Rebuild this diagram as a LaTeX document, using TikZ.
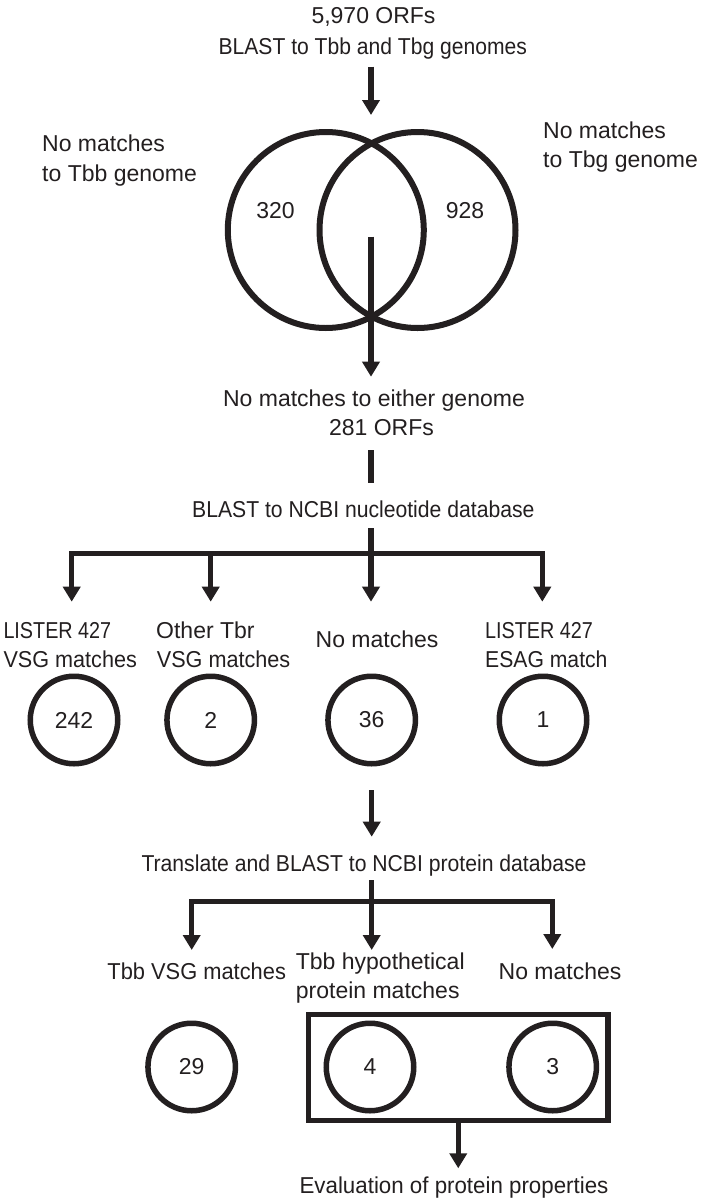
\documentclass[tikz,border=0pt]{standalone}
\usepackage{fontspec}
\setmainfont{Liberation Sans}
\usetikzlibrary{arrows.meta}
\definecolor{ink}{RGB}{35,31,32}
\begin{document}
\begin{tikzpicture}[x=1pt,y=-1pt,
  every path/.style={draw=ink},
  wire/.style={draw=ink,line width=5.5pt,line join=miter},
  conn/.style={wire,-{Triangle[length=15pt,width=17pt]}},
  lbl/.style={inner sep=0pt,text=ink,text height=16.5pt,text depth=0pt,font=\fontsize{23}{29}\selectfont},
  ring/.style={circle,draw=ink,line width=5.5pt,inner sep=0pt,minimum size=87.5pt,text=ink,font=\fontsize{23}{29}\selectfont},
  venn/.style={circle,draw=ink,line width=6pt,minimum size=196pt,inner sep=0pt}]
\useasboundingbox[fill=white,draw=none] (0,0) rectangle (702,1200);

% top
\node[lbl] (orfs) at (373.5,15) {5,970 ORFs};
\node[lbl] (blast1) at (372.8,46.7) {\scalebox{0.917}[1]{BLAST to Tbb and Tbg genomes}};
\coordinate (a1s) at (371,66.7);
\coordinate (a1e) at (371,115);
\draw[conn] (a1s) -- (a1e);

% venn
\node[venn] (vL) at (325.8,230) {};
\node[venn] (vR) at (417.5,230) {};
\node[lbl] (n320) at (275.5,210) {320};
\node[lbl] (n928) at (465,210) {928};
\node[lbl,anchor=west] (nmL1) at (42,143) {No matches};
\node[lbl,anchor=west] (nmL2) at (42,173) {to Tbb genome};
\node[lbl,anchor=west] (nmR1) at (543,130) {No matches};
\node[lbl,anchor=west] (nmR2) at (543,159) {to Tbg genome};
\coordinate (a2s) at (371,236.7);
\coordinate (a2e) at (371,376.7);
\draw[conn] (a2s) -- (a2e);

\node[lbl] (either) at (374,398.3) {No matches to either genome};
\node[lbl] (orf281) at (381.5,427.3) {281 ORFs};
\coordinate (d1) at (371,450);
\coordinate (d2) at (371,483.3);
\draw[wire] (d1) -- (d2);
\node[lbl] (ncbi) at (363.3,509.3) {\scalebox{0.92}[1]{BLAST to NCBI nucleotide database}};

% first split
\coordinate (b1top) at (371,528.3);
\coordinate (b1L) at (71.7,553.3);
\coordinate (b1R) at (542.3,553.3);
\coordinate (j2) at (210.7,553.3);
\coordinate (t1) at (71.7,601.7);
\coordinate (t2) at (210.7,601.7);
\coordinate (t3) at (371,601.7);
\coordinate (t4) at (542.3,601.7);
\draw[wire,{Triangle[length=15pt,width=17pt]}-{Triangle[length=15pt,width=17pt]}] (t1) -- (b1L) -- (b1R) -- (t4);
\draw[conn] (j2) -- (t2);
\draw[conn] (b1top) -- (t3);

\node[lbl,anchor=west] (l1a) at (3.3,630) {\scalebox{0.86}[1]{LISTER 427}};
\node[lbl,anchor=west] (l1b) at (3.3,659.3) {\scalebox{0.94}[1]{VSG matches}};
\node[lbl,anchor=west] (l2a) at (156,630) {Other Tbr};
\node[lbl,anchor=west] (l2b) at (156.7,659.3) {\scalebox{0.94}[1]{VSG matches}};
\node[lbl] (l3) at (377,639.3) {No matches};
\node[lbl,anchor=west] (l4a) at (485,630) {\scalebox{0.86}[1]{LISTER 427}};
\node[lbl,anchor=west] (l4b) at (485,659.3) {\scalebox{0.92}[1]{ESAG match}};

\node[ring] (c242) at (74,720) {242};
\node[ring] (c2) at (210.7,720) {2};
\node[ring] (c36) at (371.7,720) {36};
\node[ring] (c1) at (543,720) {1};

\coordinate (a3s) at (371.7,790);
\coordinate (a3e) at (371.7,836.7);
\draw[conn] (a3s) -- (a3e);

\node[lbl] (trans) at (364,863.3) {\scalebox{0.92}[1]{Translate and BLAST to NCBI protein database}};

% second split
\coordinate (b2top) at (371.7,880);
\coordinate (b2L) at (191.7,901.7);
\coordinate (b2R) at (552.3,901.7);
\coordinate (s1) at (191.7,950);
\coordinate (s2) at (371.7,950);
\coordinate (s3) at (552.3,949);
\draw[wire,{Triangle[length=15pt,width=17pt]}-{Triangle[length=15pt,width=17pt]}] (s1) -- (b2L) -- (b2R) -- (s3);
\draw[conn] (b2top) -- (s2);

\node[lbl] (m1) at (196.7,971.7) {\scalebox{0.95}[1]{Tbb VSG matches}};
\node[lbl,anchor=west] (m2a) at (295.7,961) {Tbb hypothetical};
\node[lbl,anchor=west] (m2b) at (295.7,990) {protein matches};
\node[lbl] (m3) at (560,971.7) {No matches};

\node[ring] (c29) at (191.7,1067) {29};
\node[ring] (c4) at (370,1067) {4};
\node[ring] (c3) at (552.7,1067) {3};

\node[draw=ink,line width=5.5pt,inner sep=0pt,minimum width=299.5pt,minimum height=106pt] (box) at (458.25,1067.5) {};
\coordinate (t9) at (458.25,1168.3);
\draw[conn] (box.south) -- (t9);
\node[lbl] (eval) at (454,1185) {\scalebox{0.97}[1]{Evaluation of protein properties}};
\end{tikzpicture}
\end{document}
